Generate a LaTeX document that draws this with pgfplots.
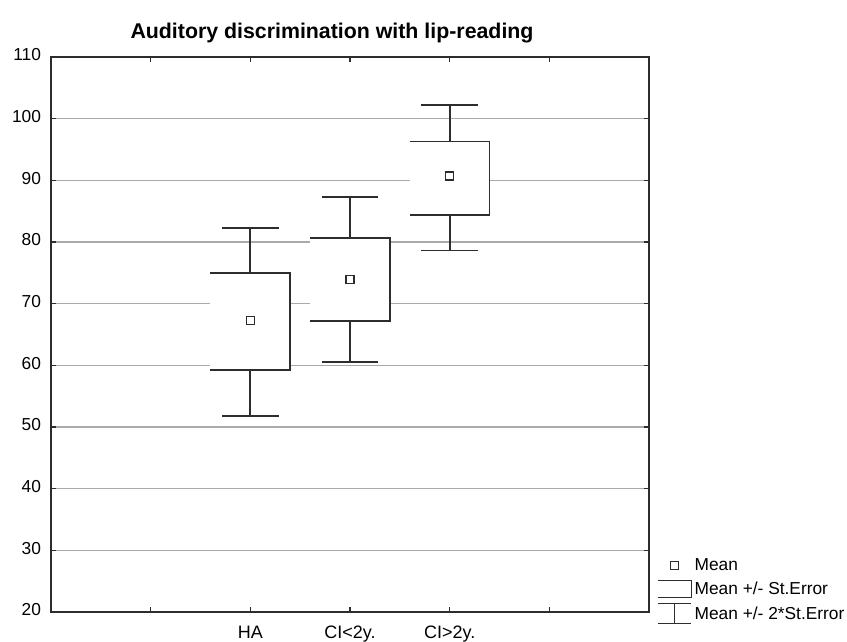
\documentclass[border=0pt]{standalone}
\usepackage{fontspec}
\setmainfont{Liberation Sans}
\usepackage{pgfplots}
\usepackage{pgfplotstable}
\pgfplotsset{compat=1.18}
\definecolor{ink}{RGB}{45,45,45}
\definecolor{gridgray}{RGB}{170,170,170}

% group position, mean, mean -/+ SE, mean -/+ 2 SE
\pgfplotstableread{
x  mean  selo  sehi  wlo   whi
2  67.3  59.3  75.0  51.8  82.3
3  73.9  67.2  80.7  60.5  87.3
4  90.7  84.4  96.3  78.6  102.2
}\stats

\begin{document}
\begin{tikzpicture}
\path[use as bounding box] (0,0) rectangle (635.25pt,481.5pt);
\node[font=\bfseries\fontsize{16}{19}\selectfont] at (249pt,456.75pt)
  {Auditory discrimination with lip-reading};
\begin{axis}[
  at={(38.25pt,22.5pt)}, anchor=south west,
  scale only axis, width=448.5pt, height=416.25pt,
  xmin=0, xmax=6, ymin=20, ymax=110,
  xtick={1,2,3,4,5},
  xticklabels={,HA,CI<2y.,CI>2y.,},
  ytick={20,30,...,110},
  ymajorgrids,
  grid style={gridgray, line width=0.9pt},
  axis line style={ink, line width=1.6pt},
  tick style={ink, line width=1pt},
  major tick length=4pt,
  tick align=inside,
  ticklabel style={color=black},
  yticklabel style={font=\fontsize{13}{15}\selectfont, xshift=-4pt, yshift=1.5pt},
  xticklabel style={font=\fontsize{13.5}{16}\selectfont, yshift=-7pt},
  /pgf/number format/assume math mode=true,
  legend style={at={(1,0)}, anchor=south west, xshift=6pt, yshift=-9.5pt,
    draw=none, fill=none, inner sep=0pt,
    font=\fontsize{13}{15}\selectfont, cells={anchor=west},
    row sep=3pt},
]
% whiskers: mean +/- 2*SE
\addplot[forget plot, only marks, mark=none,
  error bars/.cd, y dir=both, y explicit,
  error bar style={ink, line width=1.3pt},
  error mark options={rotate=90, ink, line width=1.3pt, mark size=21.2pt}]
  table[x=x, y=mean,
    y error plus expr=\thisrow{whi}-\thisrow{mean},
    y error minus expr=\thisrow{mean}-\thisrow{wlo}] {\stats};
% boxes: mean +/- SE (left edge not stroked, as in the original)
\addplot[forget plot, fill=white, draw=ink, line width=1.3pt]
  coordinates {(1.6,75.0)(2.4,75.0)(2.4,59.3)(1.6,59.3)};
\addplot[forget plot, fill=white, draw=ink, line width=1.3pt]
  coordinates {(2.6,80.7)(3.4,80.7)(3.4,67.2)(2.6,67.2)};
\addplot[forget plot, fill=white, draw=ink, line width=1.3pt]
  coordinates {(3.6,96.3)(4.4,96.3)(4.4,84.4)(3.6,84.4)};
% means
\addplot[forget plot, only marks, mark=square*, mark size=3pt,
  mark options={fill=white, draw=ink, line width=1pt}]
  table[x=x, y=mean] {\stats};

\addlegendimage{legend image code/.code={
  \draw[ink, line width=1pt, fill=white] (9.5pt,-3pt) rectangle (15.5pt,3pt);}}
\addlegendentry{Mean}
\addlegendimage{legend image code/.code={
  \draw[ink, line width=1pt] (0pt,6.5pt) -- (25pt,6.5pt) -- (25pt,-6.5pt) -- (0pt,-6.5pt);}}
\addlegendentry{Mean +/- St.Error}
\addlegendimage{legend image code/.code={
  \draw[ink, line width=1pt] (0pt,7.5pt) -- (25pt,7.5pt)
    (0pt,-7.5pt) -- (25pt,-7.5pt) (12.5pt,7.5pt) -- (12.5pt,-7.5pt);}}
\addlegendentry{Mean +/- 2*St.Error}
\end{axis}
\end{tikzpicture}
\end{document}
